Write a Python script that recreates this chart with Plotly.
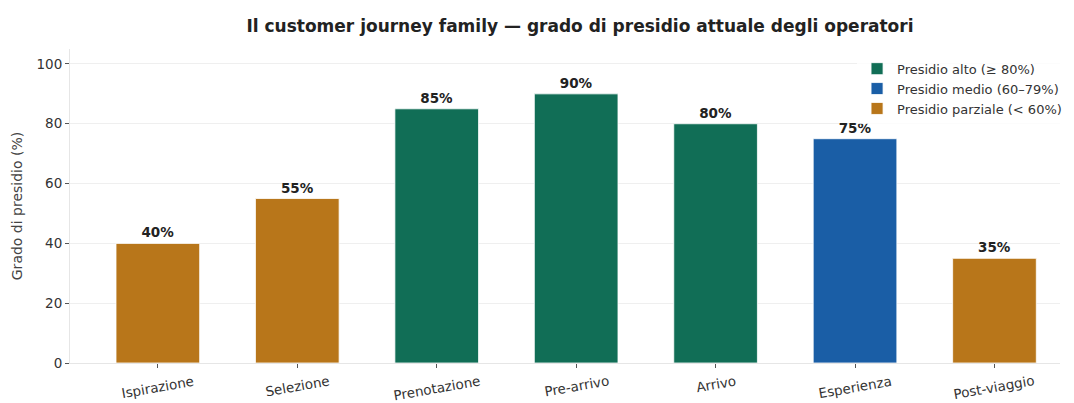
import plotly.graph_objects as go

categories = ["Ispirazione", "Selezione", "Prenotazione", "Pre-arrivo", "Arrivo", "Esperienza", "Post-viaggio"]
values = [40, 55, 85, 90, 80, 75, 35]
groups = ["parziale", "parziale", "alto", "alto", "alto", "medio", "parziale"]
group_names = {"alto": "Presidio alto (≥ 80%)", "medio": "Presidio medio (60–79%)", "parziale": "Presidio parziale (< 60%)"}
group_colors = {"alto": "#116e56", "medio": "#1a5ea6", "parziale": "#b8761a"}
yticks = [0, 20, 40, 60, 80, 100]

fig = go.Figure()
for g in ["alto", "medio", "parziale"]:
    xs = [c for c, gg in zip(categories, groups) if gg == g]
    ys = [v for v, gg in zip(values, groups) if gg == g]
    fig.add_trace(go.Bar(
        x=xs, y=ys, name=group_names[g], marker_color=group_colors[g],
        marker_line=dict(color="white", width=0.8), width=0.6,
        text=[f"{v}%" for v in ys], textposition="outside",
        textfont=dict(family="DejaVu Sans", size=13.5, color="#222"),
        texttemplate="<b>%{text}</b>", cliponaxis=False,
    ))

# category labels, centred under ticks and rotated like the reference
for c in categories:
    fig.add_annotation(x=c, y=0, xref="x", yref="y", text=c, showarrow=False,
                       xanchor="center", yanchor="top", yshift=-7, textangle=-10,
                       font=dict(family="DejaVu Sans", size=13.5, color="#333"))

fig.update_layout(
    width=1074, height=403, barmode="overlay",
    paper_bgcolor="white", plot_bgcolor="white",
    margin=dict(l=70, r=14, t=49, b=40, autoexpand=False),
    font=dict(family="DejaVu Sans", size=13.5, color="#333"),
    title=dict(text="<b>Il customer journey family — grado di presidio attuale degli operatori</b>",
               x=0.54, xanchor="center", y=0.935, yanchor="middle",
               font=dict(size=17, color="#222")),
    legend=dict(x=0.795, xanchor="left", y=0.985, yanchor="top",
                bgcolor="rgba(255,255,255,0.8)", font=dict(size=13, color="#333"),
                tracegroupgap=0, itemwidth=30, traceorder="normal"),
)
fig.update_xaxes(
    categoryorder="array", categoryarray=categories, range=[-0.63, 6.47],
    showgrid=False, showline=True, linecolor="#e6e6e6", linewidth=1,
    ticks="outside", ticklen=4, tickcolor="#555", showticklabels=False,
    automargin=False,
)
fig.update_yaxes(
    range=[0, 105], tickvals=yticks, showgrid=True, gridcolor="#efefef",
    showline=True, linecolor="#e6e6e6", linewidth=1, zeroline=False,
    ticks="outside", ticklen=4, tickcolor="#555", automargin=False,
    tickfont=dict(size=13.5, color="#333"),
    title=dict(text="Grado di presidio (%)", font=dict(size=14, color="#444"), standoff=10),
)

fig.write_html("out.html")
